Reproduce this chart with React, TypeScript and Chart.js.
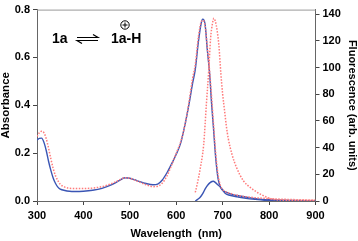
import React, { useEffect, useRef } from "react";
import { Chart, registerables } from "chart.js";

Chart.register(...registerables);

// Absorbance of 1a (blue, solid)
const absWl1a = [300, 305, 310, 315, 320, 325, 330, 335, 340, 345, 350, 360, 370, 380, 400, 420, 440, 460, 475, 490, 500, 510, 520, 535, 550, 560, 570, 580, 590, 600, 610, 620, 628, 635, 641, 648, 654, 657, 662, 667, 672, 676, 680, 685, 690, 695, 700, 710, 720, 740, 760, 780, 800, 850, 900];
const abs1a = [0.255, 0.262, 0.263, 0.245, 0.21, 0.165, 0.127, 0.095, 0.073, 0.058, 0.05, 0.044, 0.041, 0.04, 0.041, 0.045, 0.053, 0.067, 0.083, 0.097, 0.095, 0.089, 0.082, 0.073, 0.068, 0.071, 0.088, 0.118, 0.155, 0.195, 0.245, 0.33, 0.41, 0.49, 0.55, 0.67, 0.745, 0.76, 0.74, 0.63, 0.53, 0.41, 0.31, 0.18, 0.095, 0.06, 0.045, 0.035, 0.028, 0.02, 0.013, 0.008, 0.005, 0.002, 0.001];

// Absorbance of 1a-H (red, dotted)
const absWl1aH = [300, 305, 310, 315, 320, 325, 330, 335, 340, 345, 350, 360, 370, 380, 400, 420, 440, 460, 475, 490, 500, 510, 520, 535, 550, 560, 570, 580, 590, 600, 610, 620, 628, 635, 641, 648, 654, 657, 662, 667, 672, 676, 680, 685, 690, 695, 700, 720, 750, 800, 850, 900];
const abs1aH = [0.27, 0.285, 0.292, 0.285, 0.26, 0.22, 0.175, 0.135, 0.105, 0.085, 0.07, 0.058, 0.053, 0.052, 0.052, 0.054, 0.06, 0.072, 0.085, 0.097, 0.095, 0.088, 0.08, 0.068, 0.06, 0.062, 0.075, 0.105, 0.15, 0.2, 0.25, 0.33, 0.42, 0.51, 0.57, 0.69, 0.75, 0.755, 0.735, 0.64, 0.54, 0.44, 0.33, 0.2, 0.11, 0.065, 0.048, 0.03, 0.018, 0.01, 0.006, 0.004];

// Fluorescence of 1a (blue, solid)
const flWl1a = [641, 646, 652, 657, 663, 668, 673, 677, 680, 684, 689, 695, 700, 706, 715, 732, 750, 770, 790, 820, 860, 900];
const fl1a = [0, 1.2, 3, 5.5, 9.5, 12, 13.8, 14.6, 14.8, 14, 12.3, 10.4, 8.2, 5.6, 4.3, 3.1, 2, 1.2, 0.6, 0.3, 0.1, 0];

// Fluorescence of 1a-H (red, dotted)
const flWl1aH = [641, 646, 652, 659, 665, 670, 674, 678, 681, 684, 688, 692, 696, 700, 704, 708, 712, 720, 730, 745, 760, 772, 782, 797, 810, 830, 860, 900];
const fl1aH = [6.5, 14, 25, 42, 73, 98, 122, 133, 137, 135, 128, 116, 96, 80, 68, 56, 47, 35, 25, 15, 10, 7, 5, 2.5, 1.2, 0.6, 0.4, 0.3];

const xTickValues = [300, 400, 500, 600, 700, 800, 900];
const yTickValues = [0, 0.2, 0.4, 0.6, 0.8];
const y2TickValues = [0, 20, 40, 60, 80, 100, 120, 140];

const BLUE = "#3a55b4";
const RED = "#ff7a7a";
const FONT = "'Liberation Sans', Arial, sans-serif";

const pts = (xs: number[], ys: number[]) => xs.map((x, i) => ({ x, y: ys[i] }));

const decorPlugin = {
  id: "decor",
  afterDraw(chart: any) {
    const { ctx, chartArea } = chart;
    ctx.save();
    // top frame line
    ctx.strokeStyle = "#999";
    ctx.lineWidth = 1;
    ctx.beginPath();
    ctx.moveTo(chartArea.left, chartArea.top + 0.5);
    ctx.lineTo(chartArea.right, chartArea.top + 0.5);
    ctx.stroke();

    // annotation 1a <=> 1a-H
    ctx.fillStyle = "#000";
    ctx.font = `bold 14px ${FONT}`;
    ctx.textBaseline = "alphabetic";
    ctx.textAlign = "left";
    ctx.fillText("1a", 52, 43);
    ctx.fillText("1a-H", 111, 43);
    // harpoons
    ctx.strokeStyle = "#000";
    ctx.lineWidth = 1.2;
    ctx.beginPath();
    ctx.moveTo(77, 37.5);
    ctx.lineTo(98, 37.5);
    ctx.lineTo(93, 34.5);
    ctx.moveTo(98, 40.5);
    ctx.lineTo(77, 40.5);
    ctx.lineTo(82, 43.5);
    ctx.stroke();
    // circled plus
    ctx.lineWidth = 1;
    ctx.beginPath();
    ctx.arc(125, 25, 4.2, 0, Math.PI * 2);
    ctx.stroke();
    ctx.beginPath();
    ctx.moveTo(122.5, 25);
    ctx.lineTo(127.5, 25);
    ctx.moveTo(125, 22.5);
    ctx.lineTo(125, 27.5);
    ctx.stroke();
    ctx.restore();
  },
};

export default function App() {
  const ref = useRef<HTMLCanvasElement | null>(null);
  useEffect(() => {
    if (!ref.current) return;
    const tickFont = { family: FONT, size: 11, weight: "bold" as const };
    const chart = new Chart(ref.current, {
      type: "line",
      data: {
        datasets: [
          { label: "abs 1a-H", data: pts(absWl1aH, abs1aH), yAxisID: "y", borderColor: RED, borderDash: [1.5, 1.5], borderWidth: 1.5 },
          { label: "fl 1a-H", data: pts(flWl1aH, fl1aH), yAxisID: "y2", borderColor: RED, borderDash: [1.5, 1.5], borderWidth: 1.5 },
          { label: "abs 1a", data: pts(absWl1a, abs1a), yAxisID: "y", borderColor: BLUE, borderWidth: 1.4 },
          { label: "fl 1a", data: pts(flWl1a, fl1a), yAxisID: "y2", borderColor: BLUE, borderWidth: 1.4 },
        ],
      },
      options: {
        responsive: false,
        animation: false,
        layout: { padding: { top: 5, left: 0, right: 0, bottom: 0 } },
        elements: { point: { radius: 0 }, line: { cubicInterpolationMode: "monotone" } },
        plugins: { legend: { display: false }, tooltip: { enabled: false } },
        scales: {
          x: {
            type: "linear",
            min: 300,
            max: 900,
            afterBuildTicks: (s: any) => { s.ticks = xTickValues.map((v) => ({ value: v })); },
            afterFit: (s: any) => { s.height = 40; },
            ticks: { font: tickFont, color: "#000", padding: 4, maxRotation: 0 },
            grid: { drawOnChartArea: false, drawTicks: true, tickLength: 4, color: "#444" },
            border: { color: "#666", width: 1 },
            title: { display: true, text: "Wavelength  (nm)", font: { family: FONT, size: 11, weight: "bold" }, color: "#000", padding: { top: 0, bottom: 0 } },
          },
          y: {
            position: "left",
            min: 0,
            max: 0.8,
            afterBuildTicks: (s: any) => { s.ticks = yTickValues.map((v) => ({ value: v })); },
            afterFit: (s: any) => { s.width = 37; },
            ticks: { font: tickFont, color: "#000", padding: 3, callback: (v: any) => Number(v).toFixed(1) },
            grid: { drawOnChartArea: false, drawTicks: true, tickLength: 4, color: "#444" },
            border: { color: "#666", width: 1 },
            title: { display: true, text: "Absorbance", font: { family: FONT, size: 11.5, weight: "bold" }, color: "#000", padding: { top: -1, bottom: 0 } },
          },
          y2: {
            position: "right",
            min: 0,
            max: 143.5,
            afterBuildTicks: (s: any) => { s.ticks = y2TickValues.map((v) => ({ value: v })); },
            afterFit: (s: any) => { s.width = 42.5; },
            ticks: { font: tickFont, color: "#000", padding: 3 },
            grid: { drawOnChartArea: false, drawTicks: true, tickLength: 4, color: "#444" },
            border: { color: "#666", width: 1 },
            title: { display: true, text: "Fluorescence (arb. units)", font: { family: FONT, size: 11, weight: "bold" }, color: "#000", padding: { top: -1, bottom: 0 } },
          },
        },
      },
      plugins: [decorPlugin],
    });
    return () => chart.destroy();
  }, []);
  return (
    <div style={{ position: "absolute", left: 0, top: 0, width: 358, height: 241, background: "#fff" }}>
      <canvas ref={ref} width={358} height={241} style={{ display: "block" }} />
    </div>
  );
}
